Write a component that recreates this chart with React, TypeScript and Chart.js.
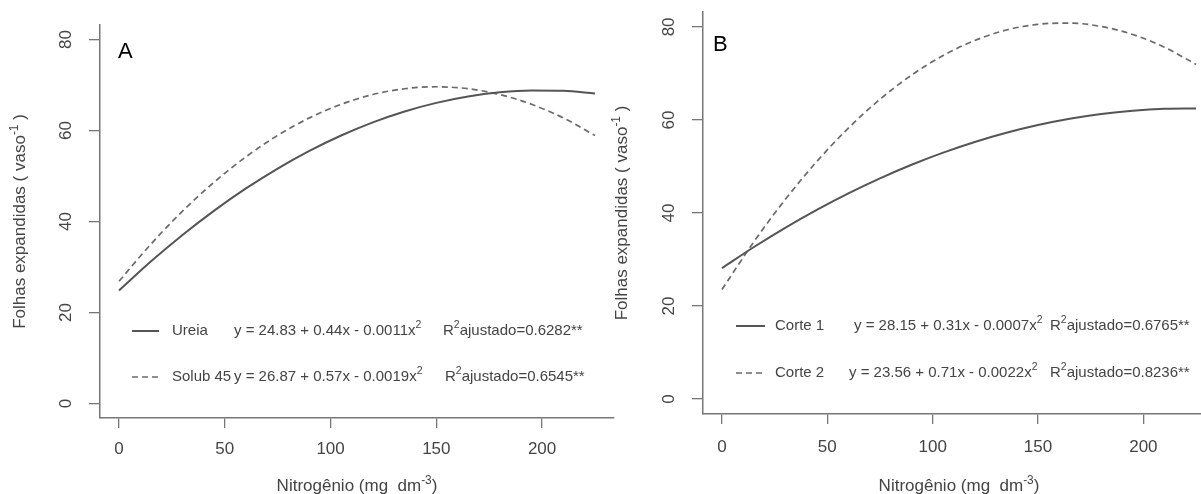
import React, { useEffect, useRef } from 'react';
import { Chart, registerables } from 'chart.js';

Chart.register(...registerables);

// ---------------- data ----------------
const X_TICKS = [0, 50, 100, 150, 200];
const Y_TICKS = [0, 20, 40, 60, 80];
const DOSES = [0, 15, 30, 45, 60, 75, 90, 105, 120, 135, 150, 165, 180, 195, 210, 225];

const UREIA = [24.83, 31.18, 37.04, 42.4, 47.27, 51.64, 55.52, 58.9, 61.79, 64.18, 66.08, 67.48, 68.39, 68.8, 68.72, 68.14];
const SOLUB45 = [26.87, 34.99, 42.26, 48.67, 54.23, 58.93, 62.78, 65.77, 67.91, 69.19, 69.62, 69.19, 67.91, 65.77, 62.78, 58.93];
const CORTE1 = [28.15, 32.64, 36.82, 40.68, 44.23, 47.46, 50.38, 52.98, 55.27, 57.24, 58.9, 60.24, 61.27, 61.98, 62.38, 62.46];
const CORTE2 = [23.56, 33.72, 42.88, 51.06, 58.24, 64.44, 69.64, 73.86, 77.08, 79.32, 80.56, 80.82, 80.08, 78.36, 75.64, 71.94];

const LABELS_A = ['Ureia', 'Solub 45'];
const LABELS_B = ['Corte 1', 'Corte 2'];
const EQ_A = ['y = 24.83 + 0.44x - 0.0011x', 'y = 26.87 + 0.57x - 0.0019x'];
const EQ_B = ['y = 28.15 + 0.31x - 0.0007x', 'y = 23.56 + 0.71x - 0.0022x'];
const R2_A = ['ajustado=0.6282**', 'ajustado=0.6545**'];
const R2_B = ['ajustado=0.6765**', 'ajustado=0.8236**'];

const X_MIN = -9;
const X_MAX = 234;
const Y_MIN = -3.2;
const Y_MAX = 83.2;

// ---------------- styles ----------------
const FONT = '"Liberation Sans", Arial, Helvetica, sans-serif';
const TEXT = '#444';
const AXIS = '#777';
const SOLID = '#555';
const DASHED = '#6a6a6a';
const DASH = [6, 4];

type Part = { t: string; sup?: boolean };

function partsWidth(ctx: CanvasRenderingContext2D, parts: Part[], size: number) {
  let w = 0;
  for (const p of parts) {
    ctx.font = `${p.sup ? size * 0.7 : size}px ${FONT}`;
    w += ctx.measureText(p.t).width;
  }
  return w;
}

function drawParts(ctx: CanvasRenderingContext2D, parts: Part[], x: number, y: number, size: number) {
  let cx = x;
  for (const p of parts) {
    if (p.sup) {
      ctx.font = `${size * 0.7}px ${FONT}`;
      ctx.fillText(p.t, cx, y - size * 0.42);
    } else {
      ctx.font = `${size}px ${FONT}`;
      ctx.fillText(p.t, cx, y);
    }
    cx += ctx.measureText(p.t).width;
  }
}

type PanelCfg = {
  letter: string;
  left: number;
  width: number;
  padTop: number;
  padRight: number;
  xAxisH: number;
  letterX: number;
  letterY: number;
  xTickY: number;
  yTickX: number;
  xTitleY: number;
  yTitleX: number;
  legendY: number[];
  lineX: [number, number];
  labelX: number;
  eqX: number[];
  rX: number[];
  labels: string[];
  eqs: string[];
  r2: string[];
  series: number[][];
};

const PANELS: PanelCfg[] = [
  {
    letter: 'A', left: 0, width: 620, padTop: 25, padRight: 6, xAxisH: 76,
    letterX: 118, letterY: 58, xTickY: 449, yTickX: 66, xTitleY: 491, yTitleX: 25,
    legendY: [331, 377], lineX: [132, 159], labelX: 172, eqX: [234, 234], rX: [443, 445],
    labels: LABELS_A, eqs: EQ_A, r2: R2_A, series: [UREIA, SOLUB45],
  },
  {
    letter: 'B', left: 603, width: 620, padTop: 12, padRight: 8, xAxisH: 80,
    letterX: 110, letterY: 51, xTickY: 447, yTickX: 66, xTitleY: 491, yTitleX: 24,
    legendY: [326, 373], lineX: [133, 162], labelX: 172, eqX: [251, 246], rX: [447, 447],
    labels: LABELS_B, eqs: EQ_B, r2: R2_B, series: [CORTE1, CORTE2],
  },
];

function makeTextPlugin(P: PanelCfg) {
  return {
    id: 'rtext' + P.letter,
    afterDraw(chart: any) {
      const ctx: CanvasRenderingContext2D = chart.ctx;
      const xs = chart.scales.x;
      const ys = chart.scales.y;
      const ca = chart.chartArea;
      ctx.save();
      ctx.fillStyle = TEXT;

      // x tick labels
      ctx.font = `17px ${FONT}`;
      ctx.textAlign = 'center';
      ctx.textBaseline = 'middle';
      for (const v of X_TICKS) {
        ctx.fillText(String(v), xs.getPixelForValue(v), P.xTickY);
      }
      // y tick labels (rotated)
      for (const v of Y_TICKS) {
        ctx.save();
        ctx.translate(P.yTickX, ys.getPixelForValue(v));
        ctx.rotate(-Math.PI / 2);
        ctx.font = `17px ${FONT}`;
        ctx.textAlign = 'center';
        ctx.textBaseline = 'middle';
        ctx.fillText(String(v), 0, 0);
        ctx.restore();
      }

      // x title
      ctx.textAlign = 'left';
      ctx.textBaseline = 'alphabetic';
      const xt: Part[] = [{ t: 'Nitrogênio (mg  dm' }, { t: '-3', sup: true }, { t: ')' }];
      const xw = partsWidth(ctx, xt, 17);
      drawParts(ctx, xt, (ca.left + ca.right) / 2 - xw / 2, P.xTitleY, 17);

      // y title (rotated)
      const yt: Part[] = [{ t: 'Folhas expandidas ( vaso' }, { t: '-1', sup: true }, { t: ' )' }];
      ctx.save();
      ctx.translate(P.yTitleX, (ca.top + ca.bottom) / 2);
      ctx.rotate(-Math.PI / 2);
      const yw = partsWidth(ctx, yt, 17);
      drawParts(ctx, yt, -yw / 2, 0, 17);
      ctx.restore();

      // panel letter
      ctx.fillStyle = '#000';
      ctx.font = `22px ${FONT}`;
      ctx.fillText(P.letter, P.letterX, P.letterY);

      // legend
      for (let i = 0; i < 2; i++) {
        const y = P.legendY[i];
        ctx.save();
        ctx.strokeStyle = i === 0 ? SOLID : DASHED;
        ctx.lineWidth = i === 0 ? 2 : 1.6;
        ctx.setLineDash(i === 0 ? [] : DASH);
        ctx.beginPath();
        ctx.moveTo(P.lineX[0], y);
        ctx.lineTo(P.lineX[1], y);
        ctx.stroke();
        ctx.restore();

        ctx.fillStyle = TEXT;
        ctx.textBaseline = 'middle';
        ctx.textAlign = 'left';
        const s = 15;
        ctx.font = `${s}px ${FONT}`;
        ctx.fillText(P.labels[i], P.labelX, y);
        drawParts(ctx, [{ t: P.eqs[i] }, { t: '2', sup: true }], P.eqX[i], y, s);
        drawParts(ctx, [{ t: 'R' }, { t: '2', sup: true }, { t: P.r2[i] }], P.rX[i], y, s);
      }
      ctx.restore();
    },
  };
}

function Panel({ cfg }: { cfg: PanelCfg }) {
  const ref = useRef<HTMLCanvasElement | null>(null);
  useEffect(() => {
    if (!ref.current) return;
    const datasets = cfg.series.map((vals, i) => ({
      label: cfg.labels[i],
      data: DOSES.map((x, k) => ({ x, y: vals[k] })),
      borderColor: i === 0 ? SOLID : DASHED,
      borderWidth: i === 0 ? 2 : 1.7,
      borderDash: i === 0 ? [] : DASH,
      pointRadius: 0,
      fill: false,
      cubicInterpolationMode: 'monotone' as const,
    }));
    const chart = new Chart(ref.current, {
      type: 'line',
      data: { datasets },
      plugins: [makeTextPlugin(cfg)],
      options: {
        animation: false,
        responsive: false,
        devicePixelRatio: 1,
        events: [],
        layout: { padding: { top: cfg.padTop, right: cfg.padRight, bottom: 0, left: 0 } },
        plugins: { legend: { display: false }, tooltip: { enabled: false }, title: { display: false } },
        scales: {
          x: {
            type: 'linear',
            min: X_MIN,
            max: X_MAX,
            afterBuildTicks: (s: any) => { s.ticks = X_TICKS.map((v) => ({ value: v })); },
            afterFit: (s: any) => { s.height = cfg.xAxisH; },
            ticks: { display: false },
            grid: { drawOnChartArea: false, drawTicks: true, tickLength: 10, color: AXIS, lineWidth: 1.3 },
            border: { display: true, color: AXIS, width: 1.5 },
          },
          y: {
            type: 'linear',
            min: Y_MIN,
            max: Y_MAX,
            afterBuildTicks: (s: any) => { s.ticks = Y_TICKS.map((v) => ({ value: v })); },
            afterFit: (s: any) => { s.width = 100; },
            ticks: { display: false },
            grid: { drawOnChartArea: false, drawTicks: true, tickLength: 11, color: AXIS, lineWidth: 1.3 },
            border: { display: true, color: AXIS, width: 1.5 },
          },
        },
      } as any,
    });
    return () => chart.destroy();
  }, [cfg]);
  return (
    <canvas
      ref={ref}
      width={cfg.width}
      height={494}
      style={{ position: 'absolute', left: cfg.left, top: 0, width: cfg.width, height: 494 }}
    />
  );
}

export default function App() {
  return (
    <div style={{ position: 'absolute', left: 0, top: 0, width: 1201, height: 494, overflow: 'hidden', background: '#fff' }}>
      {PANELS.map((p) => (
        <Panel key={p.letter} cfg={p} />
      ))}
    </div>
  );
}
